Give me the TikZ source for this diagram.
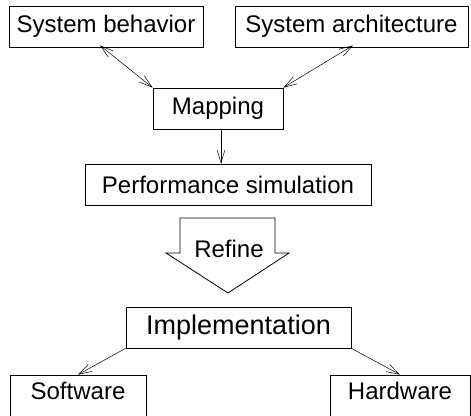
\documentclass[tikz,border=0pt]{standalone}
\usepackage{fontspec}
\setmainfont{Liberation Sans}
\usetikzlibrary{
  arrows.meta,
  positioning,
  calc
}

\begin{document}
\begin{tikzpicture}[
  x=1pt, y=-1pt,
  font=\fontsize{24}{28}\selectfont,
  box/.style={
    rectangle, draw=black, line width=0.8pt, fill=white,
    inner sep=0pt, minimum height=41pt, align=center
  },
  biarrow/.style={{Straight Barb[length=13pt,width=8pt]}-{Straight Barb[length=13pt,width=8pt]}, black, line width=0.5pt},
  feed/.style={-{Straight Barb[length=13pt,width=8pt]}, black, line width=0.5pt},
]
\useasboundingbox (0,0) rectangle (471,415);

% Top row
\node[box, minimum width=194pt] (beh)  at (106,26.5)   {System behavior};
\node[box, minimum width=233pt] (arch) at (351.5,26.5) {System architecture};

% Mapping and simulation
\node[box, minimum width=130pt] (map)  at (218,108.5)  {Mapping};
\node[box, minimum width=286pt] (perf) at (228,184.5)  {Performance simulation};

\draw[biarrow] ($(beh.south)+(-6,-2)$) -- (map.north west);
\draw[biarrow] ($(arch.south)+(1.5,-2)$) -- (map.north east);
\draw[feed] ([xshift=3pt]map.south) -- ([xshift=3pt]map.south |- perf.north);

% Refine (block arrow)
\draw[line width=0.8pt, fill=white]
  (180,218) -- (275,218) -- (275,253) -- (289,253) -- (228,293)
  -- (166,253) -- (180,253) -- cycle;
\node (ref) at (229,249) {Refine};

% Implementation
\node[box, minimum width=225pt, font=\fontsize{27}{31}\selectfont] (impl) at (238.5,327.5) {Implementation};

% Bottom row (cut off by the page)
\node[box, minimum width=136pt, text depth=10pt] (sw) at (78,395.5)  {Software};
\node[box, minimum width=140pt, text depth=10pt] (hw) at (400,395.5) {Hardware};

\draw[feed] (impl.south west) -- (sw.north);
\draw[feed] (impl.south east) -- (hw.north);

\end{tikzpicture}
\end{document}
